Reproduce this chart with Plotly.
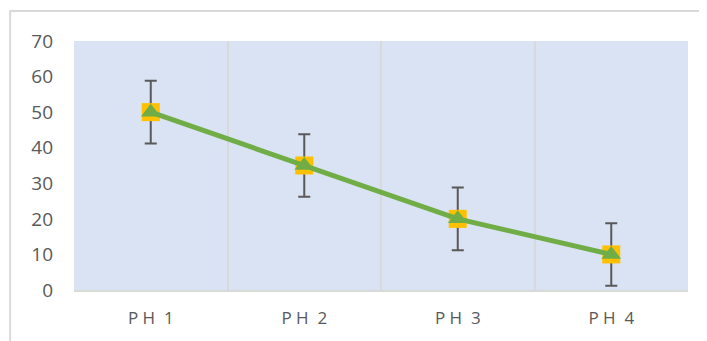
import plotly.graph_objects as go

categories = ["PH 1", "PH 2", "PH 3", "PH 4"]
tick_labels = ["P H  1", "P H  2", "P H  3", "P H  4"]
values = [50, 35, 20, 10]
errors = [8.8, 8.8, 8.8, 8.8]
y_ticks = [0, 10, 20, 30, 40, 50, 60, 70]

fig = go.Figure()
# error bars (behind markers)
fig.add_trace(go.Scatter(
    x=categories, y=values, mode="markers",
    marker=dict(size=1, color="rgba(0,0,0,0)"),
    error_y=dict(type="data", array=errors, visible=True,
                 color="#595959", thickness=2, width=6),
    hoverinfo="skip", showlegend=False))
# square markers
fig.add_trace(go.Scatter(
    x=categories, y=values, mode="markers",
    marker=dict(symbol="square", size=18, color="#FFC000",
                line=dict(width=0)),
    showlegend=False))
# line with triangles
fig.add_trace(go.Scatter(
    x=categories, y=values, mode="lines+markers",
    line=dict(color="#70AD47", width=5),
    marker=dict(symbol="triangle-up", size=17, color="#70AD47",
                line=dict(width=0)),
    showlegend=False))

fig.update_layout(
    width=707, height=341,
    margin=dict(l=66, r=27, t=33, b=59),
    paper_bgcolor="white",
    plot_bgcolor="#DAE3F3",
    font=dict(family="Open Sans, Liberation Sans, sans-serif", color="#595959"),
    xaxis=dict(
        type="category", tickson="boundaries",
        tickvals=categories, ticktext=tick_labels,
        showgrid=True, gridcolor="#D9D9D9", gridwidth=2,
        ticks="", showline=True, linecolor="#D9D9D9", linewidth=2,
        tickfont=dict(size=17, color="#595959"),
        ticklabelstandoff=12,
        range=[-0.5, 3.5], zeroline=False),
    yaxis=dict(
        range=[0, 70], tickvals=y_ticks, showgrid=False, zeroline=False,
        showline=False, ticks="",
        tickfont=dict(size=19, color="#595959"),
        ticklabelstandoff=20),
    shapes=[dict(type="rect", xref="paper", yref="paper",
                 x0=-0.104, x1=1.3, y0=-0.4, y1=1.12,
                 line=dict(color="#D9D9D9", width=2), layer="below")],
)

fig.write_html("out.html")
